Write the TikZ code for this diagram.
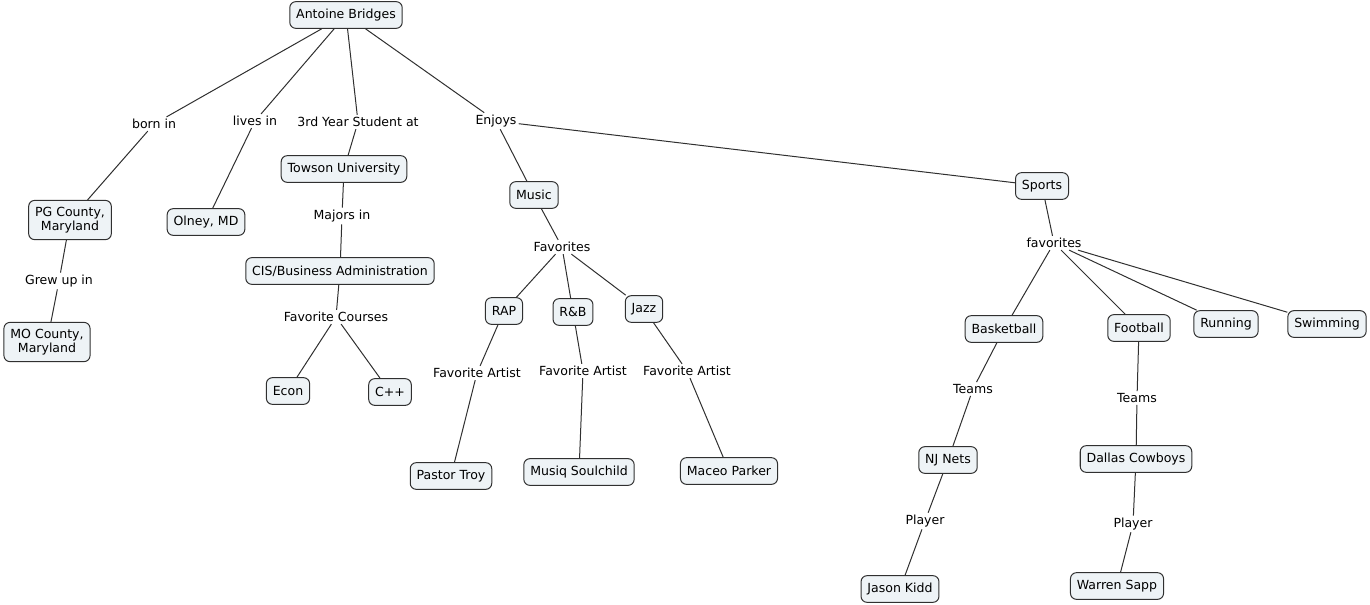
\documentclass[tikz,border=0pt]{standalone}
\usepackage{fontspec}
\setmainfont{DejaVu Sans}
\definecolor{conceptfill}{HTML}{EEF3F6}
\definecolor{linkline}{HTML}{303030}

\begin{document}
\begin{tikzpicture}[
    x=0.75pt, y=-0.75pt,
    concept/.style={draw=linkline, fill=conceptfill, rounded corners=4.5pt, line width=0.75pt,
      minimum height=20pt, inner xsep=4.8pt, inner ysep=5pt, align=center,
      font=\fontsize{9.4}{10.5}\selectfont},
    linkword/.style={fill=white, inner sep=1.5pt, font=\fontsize{9.4}{10.5}\selectfont}, % words on the lines
    link/.style={draw=linkline, line width=0.75pt}
]
\useasboundingbox (0,0) rectangle (1370,604);

% --- Root ---
\node[concept] (ab) at (346,15) {Antoine Bridges};

% --- Where he comes from ---
\node[linkword] (bornin) at (154,124) {born in};
\node[concept] (pg) at (70,220) {PG County,\\Maryland};
\node[linkword] (grewup) at (59,281) {Grew up in};
\node[concept] (mo) at (47,342) {MO County,\\Maryland};
\node[linkword] (livesin) at (255,121) {lives in};
\node[concept] (olney) at (206,222) {Olney, MD};

% --- School ---
\node[linkword] (student) at (358,122) {3rd Year Student at};
\node[concept] (towson) at (344,169) {Towson University};
\node[linkword] (majors) at (342,216) {Majors in};
\node[concept] (cis) at (340,271) {CIS/Business Administration};
\node[linkword] (courses) at (336,317) {Favorite Courses};
\node[concept] (econ) at (288,391) {Econ};
\node[concept] (cpp) at (390,392) {C++};

% --- Music ---
\node[linkword] (enjoys) at (496,121) {Enjoys};
\node[concept] (music) at (534,195) {Music};
\node[linkword] (favs) at (562,247) {Favorites};
\node[concept] (rap) at (504,311) {RAP};
\node[concept] (rnb) at (573,312) {R\&B};
\node[concept] (jazz) at (644,309) {Jazz};
\node[linkword] (artA) at (477,373) {Favorite Artist};
\node[linkword] (artB) at (583,371) {Favorite Artist};
\node[linkword] (artC) at (687,371) {Favorite Artist};
\node[concept] (troy) at (451,476) {Pastor Troy};
\node[concept] (musiq) at (579,472) {Musiq Soulchild};
\node[concept] (maceo) at (729,471) {Maceo Parker};

% --- Sports ---
\node[concept] (sports) at (1042,186) {Sports};
\node[linkword] (sfavs) at (1054,243) {favorites};
\node[concept] (bball) at (1004,329) {Basketball};
\node[concept] (fball) at (1139,328) {Football};
\node[concept] (running) at (1226,324) {Running};
\node[concept] (swimming) at (1327,324) {Swimming};
\node[linkword] (teamsA) at (973,389) {Teams};
\node[linkword] (teamsB) at (1137,398) {Teams};
\node[concept] (nets) at (948,460) {NJ Nets};
\node[concept] (cowboys) at (1136,459) {Dallas Cowboys};
\node[linkword] (playerA) at (925,521) {Player};
\node[linkword] (playerB) at (1133,524) {Player};
\node[concept] (kidd) at (900,589) {Jason Kidd};
\node[concept] (sapp) at (1117,586) {Warren Sapp};

% --- Links ---
\foreach \a/\b in {ab/bornin, bornin/pg, pg/grewup, grewup/mo,
                   ab/livesin, livesin/olney,
                   ab/student, student/towson, towson/majors, majors/cis,
                   cis/courses, courses/econ, courses/cpp,
                   ab/enjoys, enjoys/music, enjoys/sports,
                   music/favs, favs/rap, favs/rnb, favs/jazz,
                   rap/artA, artA/troy, rnb/artB, artB/musiq, jazz/artC, artC/maceo,
                   sports/sfavs, sfavs/bball, sfavs/fball, sfavs/running, sfavs/swimming,
                   bball/teamsA, teamsA/nets, nets/playerA, playerA/kidd,
                   fball/teamsB, teamsB/cowboys, cowboys/playerB, playerB/sapp}{
  \draw[link] (\a) -- (\b);
}

\end{tikzpicture}
\end{document}
